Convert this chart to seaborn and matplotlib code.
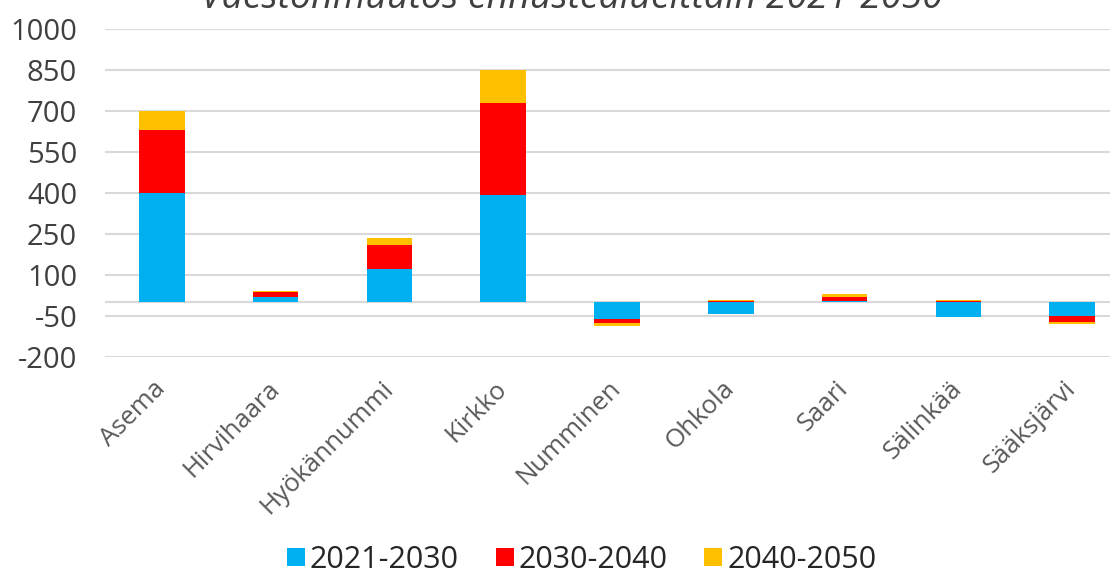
import numpy as np
import pandas as pd
import seaborn as sns
import matplotlib.pyplot as plt
from matplotlib.lines import Line2D

# data
regions = ['Asema', 'Hirvihaara', 'Hyökännummi', 'Kirkko', 'Numminen',
           'Ohkola', 'Saari', 'Sälinkää', 'Sääksjärvi']
change_2021_2030 = [400, 19, 121, 391, -62, -43, 4, -55, -49]
change_2030_2040 = [231, 17, 89, 337, -12, 3, 17, 3, -22]
change_2040_2050 = [68, 6, 25, 122, -12, 4, 10, 4, -8]
series_names = ['2021-2030', '2030-2040', '2040-2050']
y_ticks = [1000, 850, 700, 550, 400, 250, 100, -50, -200]
title = 'Väestönmuutos ennustealueittain 2021-2050'

colors = ['#00B0F0', '#FF0000', '#FFC000']

sns.set_style("white")
plt.rcParams['font.family'] = ['Open Sans', 'DejaVu Sans']
plt.rcParams['axes.unicode_minus'] = False

fig = plt.figure(figsize=(11.1, 5.77), dpi=100)
ax = fig.add_axes([0.0946, 0.3813, 0.9225, 0.569])

# stack positives and negatives separately (like Excel)
pos_base = np.zeros(len(regions))
neg_base = np.zeros(len(regions))
for name, vals, col in zip(series_names,
                           [change_2021_2030, change_2030_2040, change_2040_2050],
                           colors):
    vals = np.array(vals, dtype=float)
    bottoms = np.where(vals >= 0, pos_base, neg_base)
    df = pd.DataFrame({'region': regions, 'value': vals})
    sns.barplot(data=df, x='region', y='value', bottom=bottoms, color=col,
                saturation=1, width=0.4, linewidth=0, errorbar=None, ax=ax, zorder=3)
    pos_base = pos_base + np.where(vals >= 0, vals, 0)
    neg_base = neg_base + np.where(vals < 0, vals, 0)

ax.set_xlim(-0.5, len(regions) - 0.5)
ax.set_ylim(-200, 1000)
ax.set_yticks(y_ticks)
ax.yaxis.grid(True, color='#d9d9d9', linewidth=1.5, zorder=0)
ax.axhline(0, color='#d9d9d9', linewidth=1.5, zorder=1)
ax.set_axisbelow(True)
for s in ax.spines.values():
    s.set_visible(False)
ax.set_xlabel('')
ax.set_ylabel('')

ax.tick_params(axis='y', length=0, pad=20, labelsize=21, labelcolor='#404040')
ax.tick_params(axis='x', length=0, pad=20, labelsize=18.5, labelcolor='#595959')
for lab in ax.get_xticklabels():
    lab.set_rotation(45)
    lab.set_ha('right')
    lab.set_va('center')
    lab.set_rotation_mode('anchor')

fig.text(572 / 1110, 1 - 8 / 577, title, ha='center', va='baseline',
         fontsize=27, style='italic', color='#404040')

handles = [Line2D([], [], marker='s', linestyle='none', markersize=13,
                  markerfacecolor=c, markeredgewidth=0) for c in colors]
fig.legend(handles, series_names, loc='center', bbox_to_anchor=(580 / 1110, 1 - 560 / 577),
           ncol=3, frameon=False, fontsize=22, handletextpad=0.05,
           columnspacing=1.1, handlelength=0.8, labelcolor='#262626')

fig.savefig('out.png', dpi=100)
